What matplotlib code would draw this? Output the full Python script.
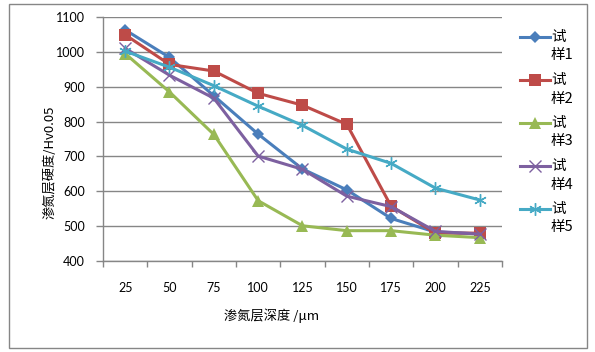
import matplotlib
matplotlib.use("Agg")
import matplotlib.pyplot as plt
from matplotlib.lines import Line2D
from matplotlib.patches import Rectangle
import numpy as np

plt.rcParams['font.family'] = ['Noto Sans CJK SC', 'DejaVu Sans']

depths = ["25", "50", "75", "100", "125", "150", "175", "200", "225"]
series_names = ["试\n样1", "试\n样2", "试\n样3", "试\n样4", "试\n样5"]
s1 = [1063, 984, 874, 764, 664, 604, 522, 483, 478]
s2 = [1049, 964, 945, 881, 847, 792, 557, 480, 480]
s3 = [995, 885, 763, 573, 501, 487, 487, 474, 467]
s4 = [1010, 933, 867, 701, 663, 586, 556, 485, 477]
s5 = [1002, 956, 903, 844, 789, 721, 680, 609, 575]
yticks = [400, 500, 600, 700, 800, 900, 1000, 1100]

colors = ["#4A7EBB", "#BE4B48", "#98B954", "#7D60A0", "#46AAC5"]
markers = ["D", "s", "^", "x", "*"]
msizes = [6, 8, 8, 8, 9]

W, H = 595, 352
fig = plt.figure(figsize=(W/100, H/100), dpi=100)
fig.patches.append(Rectangle((9/W, 4/H), (587-9)/W, (348-4)/H, transform=fig.transFigure,
                             fill=False, edgecolor="#868686", linewidth=1.0))

L, R, T, B = 103, 502, 17, 261
ax = fig.add_axes([L/W, 1-B/H, (R-L)/W, (B-T)/H])
x = np.arange(len(depths))
data = [s1, s2, s3, s4, s5]
for vals, c, m, ms in zip(data, colors, markers, msizes):
    if m in ("x", "*"):
        mk = "x" if m == "x" else (6, 2, 0)
        ax.plot(x, vals, color=c, lw=2.2, marker=mk, markersize=ms, markeredgewidth=1.0,
                markerfacecolor=c, markeredgecolor=c, zorder=3)
    else:
        ax.plot(x, vals, color=c, lw=2.2, marker=m, markersize=ms, markeredgewidth=0,
                markerfacecolor=c, zorder=3)

ax.set_xlim(-0.5, len(depths)-0.5)
ax.set_ylim(400, 1100)
ax.set_yticks(yticks)
ax.set_yticklabels([str(v) for v in yticks], fontfamily="Lato", fontsize=9)
ax.set_xticks(x)
ax.set_xticklabels(depths, fontfamily="Lato", fontsize=9)
ax.set_xticks(np.arange(len(depths)+1)-0.5, minor=True)
ax.tick_params(axis="x", which="major", length=0, pad=15)
ax.tick_params(axis="x", which="minor", length=4, color="#868686", width=1, direction="out")
ax.tick_params(axis="y", length=5, color="#868686", width=1, pad=8)
ax.grid(axis="y", color="#868686", lw=1)
ax.set_axisbelow(True)
for s in ["top", "right"]:
    ax.spines[s].set_visible(False)
for s in ["left", "bottom"]:
    ax.spines[s].set_color("#868686")
    ax.spines[s].set_linewidth(1)

ax.set_xlabel("渗氮层深度 /μm", fontsize=9.5)
ax.xaxis.set_label_coords((272-L)/(R-L), (B-316)/(B-T))
ax.xaxis.label.set_va("center")
ax.set_ylabel("渗氮层硬度/Hv0.05", fontsize=9.5)
ax.yaxis.set_label_coords((50-L)/(R-L), (B-162)/(B-T))
ax.yaxis.label.set_va("center")

# legend
for i, (name, c, m, ms) in enumerate(zip(series_names, colors, markers, msizes)):
    yy = 36.5 + i*43
    fy = 1 - yy/H
    fig.lines.append(Line2D([520/W, 550/W], [fy, fy], transform=fig.transFigure, color=c, lw=2.2))
    mk = "x" if m == "x" else ((6, 2, 0) if m == "*" else m)
    fig.lines.append(Line2D([535/W], [fy], transform=fig.transFigure, color=c, marker=mk,
                            markersize=ms, markeredgewidth=(1.0 if m in "x*" else 0),
                            markerfacecolor=c, markeredgecolor=c))
    first, second = name.split("\n")
    fig.text(551/W, fy, first, fontsize=10.5, va="center", ha="left")
    fig.text(551/W, 1-(yy+19)/H, second, fontsize=10.5, va="center", ha="left")

fig.savefig("out.png", dpi=100)
